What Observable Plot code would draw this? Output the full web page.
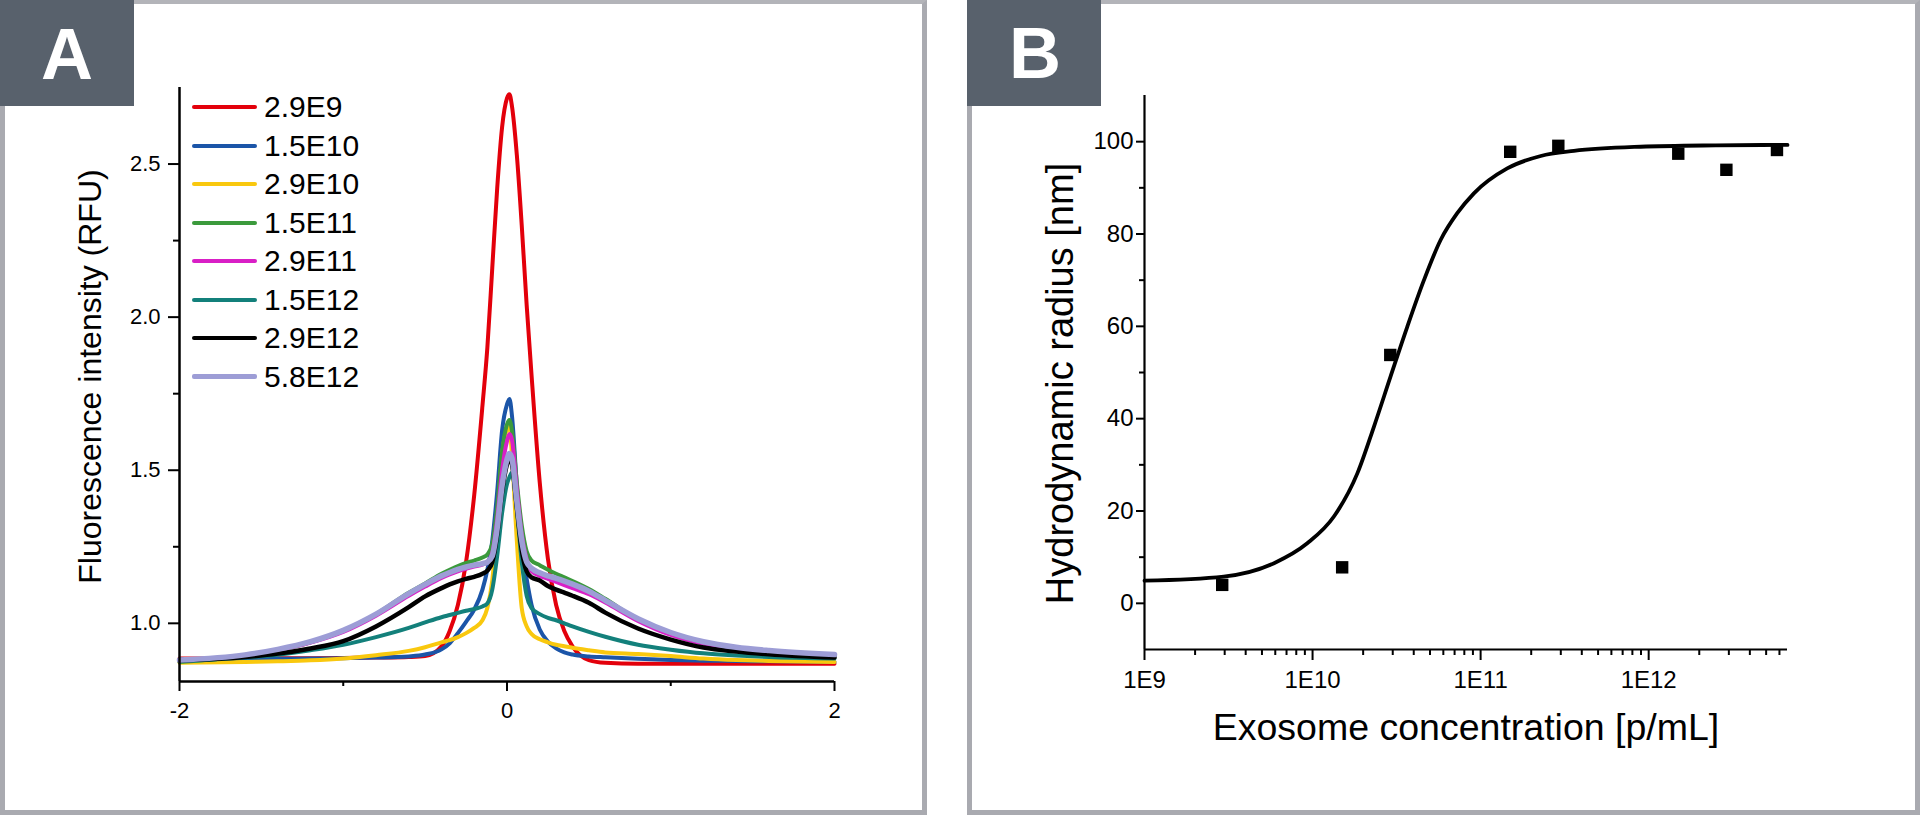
<!DOCTYPE html>
<html>
<head>
<meta charset="utf-8">
<script src="https://cdn.jsdelivr.net/npm/d3@7"></script>
<script src="https://cdn.jsdelivr.net/npm/@observablehq/plot@0.6"></script>
<style>
  html, body { margin: 0; padding: 0; background: #fff; }
  body { font-family: 'Liberation Sans', Arial, sans-serif; }
  #page { position: relative; width: 1920px; height: 815px; overflow: hidden; background: #fff; }
  .frame { position: absolute; top: 0; height: 815px; box-sizing: border-box; border: 5px solid #a9aab0; border-top-width: 4px; border-top-color: #b3b4b9; }
  .holder { position: absolute; }
  .holder svg { display: block; max-width: none !important; }
  #plotA g[aria-label$="tick label"], #plotA g[aria-label$="tick label"] text { font-size: 22px !important; font-family: 'Liberation Sans', Arial, sans-serif !important; }
  #plotB g[aria-label$="tick label"], #plotB g[aria-label$="tick label"] text { font-size: 24px !important; font-family: 'Liberation Sans', Arial, sans-serif !important; }
  .tag { position: absolute; top: 0; }
  .legend { position: absolute; left: 0; top: 0; }
  .legrow { position: absolute; left: 192px; height: 38px; display: flex; align-items: center; font-size: 30px; line-height: 38px; color: #000; white-space: nowrap; }
  .legline { width: 65px; height: 4px; border-radius: 2px; margin-right: 7px; }
</style>
</head>
<body>
<div id="page">
  <div class="frame" style="left:0;width:927px;"></div>
  <div class="frame" style="left:967px;width:953px;"></div>
  <div class="holder" id="plotA" style="left:5px;top:4px;width:917px;"></div>
  <div class="holder" id="plotB" style="left:972px;top:4px;width:942px;"></div>
  <div class="legend" id="legend"></div>
  <svg class="tag" style="left:0;" width="134" height="106"><rect width="134" height="106" fill="#58616c"/><text x="67" y="79" text-anchor="middle" font-family="'Liberation Sans', Arial, sans-serif" font-weight="bold" font-size="72" fill="#fff">A</text></svg>
  <svg class="tag" style="left:967px;" width="134" height="106"><rect width="134" height="106" fill="#58616c"/><text x="68" y="78" text-anchor="middle" font-family="'Liberation Sans', Arial, sans-serif" font-weight="bold" font-size="72" fill="#fff">B</text></svg>
</div>
<script>
// ---------- Panel A data ----------
const offsets = [-2, -1.6, -1.4, -1.2, -1.0, -0.8, -0.6, -0.5, -0.4, -0.35, -0.3, -0.25, -0.2, -0.15, -0.12, -0.09, -0.06, -0.03, 0, 0.015, 0.03, 0.06, 0.09, 0.12, 0.15, 0.2, 0.25, 0.3, 0.35, 0.4, 0.5, 0.6, 0.8, 1.0, 1.2, 1.4, 1.6, 2.0];

const rfu_2_9E9  = [0.885, 0.885, 0.886, 0.886, 0.887, 0.888, 0.890, 0.893, 0.925, 0.975, 1.06, 1.20, 1.42, 1.71, 1.90, 2.16, 2.42, 2.62, 2.715, 2.728, 2.69, 2.53, 2.30, 2.04, 1.81, 1.46, 1.21, 1.06, 0.975, 0.925, 0.880, 0.871, 0.868, 0.868, 0.868, 0.868, 0.868, 0.868];
const rfu_1_5E10 = [0.882, 0.883, 0.884, 0.885, 0.886, 0.888, 0.892, 0.898, 0.915, 0.935, 0.968, 1.005, 1.045, 1.11, 1.175, 1.27, 1.43, 1.63, 1.715, 1.733, 1.68, 1.45, 1.25, 1.145, 1.06, 0.98, 0.94, 0.918, 0.905, 0.898, 0.892, 0.889, 0.884, 0.880, 0.878, 0.877, 0.876, 0.874];
const rfu_2_9E10 = [0.871, 0.874, 0.876, 0.879, 0.885, 0.896, 0.910, 0.922, 0.938, 0.945, 0.955, 0.968, 0.985, 1.01, 1.05, 1.14, 1.33, 1.55, 1.635, 1.645, 1.55, 1.27, 1.05, 0.99, 0.965, 0.948, 0.938, 0.93, 0.925, 0.92, 0.912, 0.905, 0.90, 0.893, 0.885, 0.88, 0.877, 0.874];
const rfu_1_5E11 = [0.874, 0.893, 0.912, 0.938, 0.975, 1.03, 1.10, 1.13, 1.162, 1.175, 1.187, 1.197, 1.205, 1.215, 1.225, 1.26, 1.38, 1.56, 1.65, 1.664, 1.63, 1.46, 1.32, 1.235, 1.205, 1.19, 1.175, 1.162, 1.15, 1.138, 1.112, 1.08, 1.012, 0.965, 0.935, 0.918, 0.908, 0.895];
const rfu_2_9E11 = [0.878, 0.894, 0.912, 0.937, 0.972, 1.025, 1.09, 1.12, 1.148, 1.16, 1.17, 1.178, 1.185, 1.192, 1.2, 1.23, 1.34, 1.50, 1.595, 1.618, 1.60, 1.44, 1.29, 1.21, 1.17, 1.155, 1.145, 1.135, 1.125, 1.115, 1.095, 1.068, 1.008, 0.962, 0.933, 0.916, 0.906, 0.895];
const rfu_1_5E12 = [0.876, 0.888, 0.897, 0.912, 0.93, 0.955, 0.985, 1.003, 1.02, 1.027, 1.034, 1.041, 1.047, 1.055, 1.065, 1.11, 1.22, 1.36, 1.455, 1.478, 1.492, 1.37, 1.2, 1.09, 1.05, 1.03, 1.018, 1.01, 1.0, 0.99, 0.972, 0.956, 0.93, 0.914, 0.902, 0.895, 0.89, 0.885];
const rfu_2_9E12 = [0.879, 0.89, 0.901, 0.918, 0.942, 0.99, 1.053, 1.088, 1.115, 1.127, 1.137, 1.145, 1.152, 1.162, 1.172, 1.2, 1.29, 1.43, 1.52, 1.54, 1.52, 1.38, 1.24, 1.17, 1.15, 1.14, 1.122, 1.11, 1.10, 1.09, 1.067, 1.035, 0.983, 0.947, 0.921, 0.908, 0.899, 0.888];
const rfu_5_8E12 = [0.880, 0.897, 0.915, 0.94, 0.977, 1.03, 1.097, 1.127, 1.155, 1.166, 1.176, 1.184, 1.19, 1.195, 1.2, 1.22, 1.31, 1.45, 1.535, 1.555, 1.54, 1.40, 1.27, 1.2, 1.18, 1.165, 1.155, 1.147, 1.138, 1.128, 1.105, 1.075, 1.015, 0.97, 0.94, 0.922, 0.911, 0.898];

const seriesNames  = ["2.9E9", "1.5E10", "2.9E10", "1.5E11", "2.9E11", "1.5E12", "2.9E12", "5.8E12"];
const seriesColors = ["#e3000b", "#1b55a8", "#f9c80e", "#3b9a3c", "#d91fc6", "#13807b", "#000000", "#9d9dd6"];
const seriesValues = [rfu_2_9E9, rfu_1_5E10, rfu_2_9E10, rfu_1_5E11, rfu_2_9E11, rfu_1_5E12, rfu_2_9E12, rfu_5_8E12];
const seriesWidths = [4, 4, 4, 4, 4, 4, 4.5, 5.5];

const yTicksA = [1.0, 1.5, 2.0, 2.5];
const yMinorA = [1.25, 1.75, 2.25];
const xTicksA = [-2, 0, 2];
const xMinorA = [-1, 1];

// ---------- Panel B data ----------
const sampleConc   = [2.9e9, 1.5e10, 2.9e10, 1.5e11, 2.9e11, 1.5e12, 2.9e12, 5.8e12];
const sampleRadius = [4.0, 7.8, 53.8, 97.8, 99.1, 97.4, 93.9, 98.2];

const fitConc   = [1e9, 2.96e9, 5.9e9, 9.3e9, 1.34e10, 1.85e10, 2.32e10, 2.91e10, 3.66e10, 4.6e10, 5.78e10, 7.26e10, 9.12e10, 1.44e11, 2.28e11, 3.59e11, 8.95e11, 2.5e12, 6.7e12];
const fitRadius = [4.9, 5.8, 8.7, 13.0, 18.8, 28.2, 38.3, 49.1, 59.9, 70.0, 78.7, 84.5, 88.8, 94.2, 96.9, 98.0, 98.9, 99.2, 99.3];

const xTicksB = [1e9, 1e10, 1e11, 1e12];
const xMinorB = [];
for (const p of [9, 10, 11, 12]) for (let k = 2; k <= 9; k++) { const v = k * Math.pow(10, p); if (v <= 6.7e12) xMinorB.push(v); }
const yTicksB = [0, 20, 40, 60, 80, 100];
const yMinorB = [10, 30, 50, 70, 90];

const fontFam = "'Liberation Sans', Arial, sans-serif";

// ---------- Panel A ----------
const plotA = Plot.plot({
  width: 917, height: 806,
  marginLeft: 174, marginRight: 88, marginTop: 83, marginBottom: 129,
  x: {domain: [-2, 2], label: null},
  y: {domain: [0.81, 2.75], label: null},
  style: {fontFamily: fontFam, fontSize: "22px", background: "transparent", color: "#000", overflow: "visible"},
  marks: [
    ...seriesValues.map((vals, k) => Plot.line(vals, {
      x: (d, i) => offsets[i], y: d => d,
      stroke: seriesColors[k], strokeWidth: seriesWidths[k], curve: "monotone-x"
    })),
    Plot.ruleX([-2], {stroke: "#000", strokeWidth: 2.5}),
    Plot.ruleY([0.81], {stroke: "#000", strokeWidth: 2.5}),
    Plot.axisY(yTicksA, {tickSize: 11, tickPadding: 8, fontSize: 22, strokeWidth: 2, tickFormat: d => d.toFixed(1), label: null}),
    Plot.axisY(yMinorA, {tickSize: 6, tickFormat: () => "", strokeWidth: 2, label: null}),
    Plot.axisX(xTicksA, {tickSize: 10, tickPadding: 11, fontSize: 22, strokeWidth: 2, tickFormat: d => String(d), label: null}),
    Plot.axisX(xMinorA, {tickSize: 5, tickFormat: () => "", strokeWidth: 2, label: null}),
    Plot.text(["Fluorescence intensity (RFU)"], {text: d => d, frameAnchor: "left", rotate: -90, dx: -89, dy: -8, fontSize: 32, textAnchor: "middle", lineAnchor: "middle", fill: "#000"})
  ]
});
document.getElementById("plotA").appendChild(plotA);

// ---------- Panel B ----------
const plotB = Plot.plot({
  width: 942, height: 806,
  marginLeft: 172, marginRight: 127, marginTop: 91, marginBottom: 161,
  x: {type: "log", domain: [1e9, 6.7e12], label: null},
  y: {domain: [-10, 110], label: null},
  style: {fontFamily: fontFam, fontSize: "24px", background: "transparent", color: "#000", overflow: "visible"},
  marks: [
    Plot.ruleX([1e9], {stroke: "#000", strokeWidth: 2.2}),
    Plot.ruleY([-10], {stroke: "#000", strokeWidth: 2.2}),
    Plot.axisY(yTicksB, {tickSize: 8, tickPadding: 3, fontSize: 24, strokeWidth: 2, tickFormat: d => String(d), label: null}),
    Plot.axisY(yMinorB, {tickSize: 5, tickFormat: () => "", strokeWidth: 2, label: null}),
    Plot.axisX(xTicksB, {tickSize: 11, tickPadding: 10, fontSize: 24, strokeWidth: 2, tickFormat: d => "1E" + Math.round(Math.log10(d)), label: null}),
    Plot.axisX(xMinorB, {tickSize: 6, tickFormat: () => "", strokeWidth: 2, label: null}),
    Plot.line(fitRadius, {x: (d, i) => fitConc[i], y: d => d, stroke: "#000", strokeWidth: 3.8, curve: "monotone-x"}),
    Plot.dot(sampleRadius, {x: (d, i) => sampleConc[i], y: d => d, symbol: "square", r: 7, fill: "#000"}),
    Plot.text(["Hydrodynamic radius [nm]"], {text: d => d, frameAnchor: "left", rotate: -90, dx: -84, dy: 11, fontSize: 38, textAnchor: "middle", lineAnchor: "middle", fill: "#000"}),
    Plot.text(["Exosome concentration [p/mL]"], {text: d => d, frameAnchor: "bottom", dy: 78, fontSize: 37.5, textAnchor: "middle", lineAnchor: "middle", fill: "#000"})
  ]
});
document.getElementById("plotB").appendChild(plotB);

// ---------- Legend (panel A) ----------
const legend = document.getElementById("legend");
seriesNames.forEach((name, k) => {
  const row = document.createElement("div");
  row.className = "legrow";
  row.style.top = (107 + 38.5 * k - 19) + "px";
  const ln = document.createElement("div");
  ln.className = "legline";
  ln.style.background = seriesColors[k];
  if (k === 7) ln.style.height = "5px";
  const tx = document.createElement("span");
  tx.textContent = name;
  row.appendChild(ln);
  row.appendChild(tx);
  legend.appendChild(row);
});
</script>
</body>
</html>
